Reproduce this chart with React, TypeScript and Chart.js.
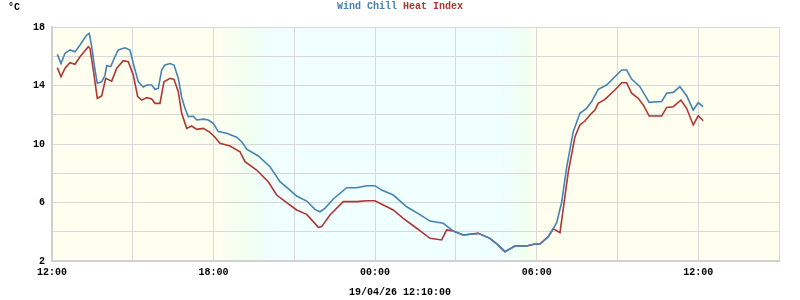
import React, { useEffect, useRef } from "react";
import { Chart, registerables } from "chart.js";

Chart.register(...registerables);

// hours after 12:00 on the first day
const windChillHours = [
  0.197, 0.334, 0.483, 0.668, 0.854, 1.04, 1.289, 1.385, 1.474, 1.597, 1.682, 1.846, 1.968, 2.031, 2.18,
  2.339, 2.462, 2.711, 2.896, 3.019, 3.205, 3.39, 3.516, 3.702, 3.825, 3.947, 4.073, 4.196, 4.382, 4.53,
  4.69, 4.816, 4.939, 5.061, 5.247, 5.373, 5.618, 5.804, 5.99, 6.175, 6.487, 6.859, 7.044, 7.23, 7.661,
  8.095, 8.466, 8.838, 9.087, 9.458, 9.766, 9.952, 10.137, 10.446, 10.943, 11.315, 11.686, 11.994, 12.243,
  12.674, 13.171, 13.665, 14.036, 14.53, 14.902, 15.273, 15.83, 16.264, 16.573, 16.822, 17.193, 17.628,
  17.935, 18.121, 18.43, 18.741, 18.927, 19.113, 19.358, 19.606, 19.855, 20.041, 20.286, 20.598, 20.906,
  21.155, 21.341, 21.526, 21.835, 22.18, 22.641, 22.827, 23.072, 23.32, 23.569, 23.814, 24.0, 24.185,
];
const windChill = [
  16.13, 15.5, 16.2, 16.43, 16.3, 16.77, 17.45, 17.57, 16.65, 15.06, 14.15, 14.25, 14.7, 15.35, 15.3,
  15.97, 16.43, 16.58, 16.43, 15.5, 14.25, 13.9, 14.03, 14.03, 13.74, 13.8, 15.06, 15.4, 15.5, 15.4,
  14.5, 13.2, 12.44, 11.87, 11.9, 11.64, 11.7, 11.64, 11.41, 10.85, 10.73, 10.46, 10.16, 9.64, 9.18,
  8.45, 7.42, 6.85, 6.44, 6.1, 5.53, 5.37, 5.6, 6.24, 7.01, 7.01, 7.15, 7.15, 6.85,
  6.51, 5.71, 5.17, 4.73, 4.58, 4.05, 3.78, 3.89, 3.55, 3.09, 2.64, 3.03, 3.03,
  3.16, 3.16, 3.66, 4.6, 6.0, 8.4, 10.84, 12.1, 12.44, 12.9, 13.74, 14.03, 14.6,
  15.06, 15.06, 14.44, 13.92, 12.85, 12.9, 13.47, 13.53, 13.92, 13.3, 12.32, 12.82, 12.55,
];

const heatIndexHours = [
  0.197, 0.334, 0.483, 0.668, 0.854, 1.04, 1.348, 1.411, 1.534, 1.682, 1.846, 1.994, 2.217, 2.403, 2.648,
  2.833, 3.019, 3.182, 3.331, 3.516, 3.702, 3.825, 4.01, 4.159, 4.382, 4.53, 4.69, 4.816, 5.002, 5.188,
  5.373, 5.618, 5.867, 6.053, 6.238, 6.61, 6.981, 7.167, 7.601, 8.032, 8.344, 8.715, 9.087, 9.458, 9.703,
  9.889, 10.015, 10.323, 10.817, 11.315, 11.686, 11.994, 12.302, 12.674, 13.045, 13.542, 13.665, 14.036,
  14.47, 14.657, 14.902, 15.273, 15.83, 16.264, 16.573, 16.822, 17.193, 17.628, 17.935, 18.121, 18.43,
  18.62, 18.866, 18.989, 19.175, 19.423, 19.606, 19.792, 19.978, 20.163, 20.286, 20.535, 20.906, 21.155,
  21.341, 21.526, 21.771, 21.957, 22.18, 22.641, 22.827, 23.072, 23.358, 23.569, 23.814, 24.0, 24.185,
];
const heatIndex = [
  15.22, 14.6, 15.18, 15.56, 15.45, 15.97, 16.65, 16.54, 15.06, 13.13, 13.28, 14.49, 14.3, 15.18, 15.7,
  15.63, 14.72, 13.24, 13.0, 13.17, 13.08, 12.78, 12.78, 14.26, 14.49, 14.42, 13.58, 12.1, 11.07, 11.23,
  11.0, 11.07, 10.8, 10.46, 10.05, 9.86, 9.47, 8.79, 8.22, 7.42, 6.51, 5.99, 5.49, 5.19, 4.69,
  4.3, 4.35, 5.15, 6.06, 6.06, 6.12, 6.12, 5.83, 5.49, 4.92, 4.24, 4.07, 3.55,
  3.44, 4.12, 4.05, 3.78, 3.89, 3.55, 3.09, 2.64, 3.03, 3.03, 3.16, 3.16, 3.66,
  4.2, 3.94, 5.6, 8.1, 10.5, 11.3, 11.57, 11.98, 12.32, 12.78, 13.05, 13.69, 14.19,
  14.19, 13.47, 13.12, 12.67, 11.91, 11.91, 12.5, 12.55, 13.0, 12.44, 11.3, 11.93, 11.59,
];

const xTickLabels = ["12:00", "18:00", "00:00", "06:00", "12:00"];
const yTickLabels = ["2", "6", "10", "14", "18"];
const seriesNames = ["Wind Chill", "Heat Index"];
const seriesColors = ["#4682b4", "#b03535"];
const unitLabel = "°C";
const footerTitle = "19/04/26 12:10:00";

// background (day/night) shading, hours after 12:00
const duskStart = 6.1;
const duskMid = 7.35;
const duskEnd = 8.3;
const dawnStart = 16.7;
const dawnMid = 17.6;
const dawnEnd = 18.0;

const FONT = "bold 10px 'Liberation Mono', 'DejaVu Sans Mono', monospace";

const bgPlugin = {
  id: "daynight",
  beforeDraw(chart: any) {
    const { ctx, chartArea, scales } = chart;
    const xs = scales.x;
    const l = chartArea.left;
    const w = chartArea.right - chartArea.left;
    const g = ctx.createLinearGradient(chartArea.left, 0, chartArea.right, 0);
    const day = "#fffff0";
    const green = "#f0fff0";
    const night = "#f0ffff";
    const stop = (h: number) => Math.min(1, Math.max(0, (xs.getPixelForValue(h) - l) / w));
    g.addColorStop(0, day);
    g.addColorStop(stop(duskStart), day);
    g.addColorStop(stop(duskMid), green);
    g.addColorStop(stop(duskEnd), night);
    g.addColorStop(stop(dawnStart), night);
    g.addColorStop(stop(dawnMid), green);
    g.addColorStop(stop(dawnEnd), day);
    g.addColorStop(1, day);
    ctx.save();
    ctx.fillStyle = g;
    ctx.fillRect(chartArea.left, chartArea.top, w, chartArea.bottom - chartArea.top);
    ctx.restore();
  },
};

const textPlugin = {
  id: "texts",
  afterDraw(chart: any) {
    const { ctx } = chart;
    ctx.save();
    ctx.font = FONT;
    ctx.textBaseline = "middle";
    ctx.fillStyle = "#000";
    ctx.textAlign = "left";
    ctx.fillText(unitLabel, 8, 7);
    const full = seriesNames.join(" ");
    const total = ctx.measureText(full).width;
    let x = 400 - total / 2;
    seriesNames.forEach((n, i) => {
      ctx.fillStyle = seriesColors[i];
      ctx.fillText(n, x, 6);
      x += ctx.measureText(n + " ").width;
    });
    ctx.fillStyle = "#000";
    ctx.textAlign = "center";
    ctx.fillText(footerTitle, 400, 292);
    ctx.restore();
  },
};

export default function App() {
  const ref = useRef<HTMLCanvasElement>(null);
  useEffect(() => {
    document.body.style.margin = "0";
    const canvas = ref.current!;
    const chart = new Chart(canvas, {
      type: "line",
      data: {
        datasets: [
          {
            label: seriesNames[0],
            data: windChillHours.map((h, i) => ({ x: h, y: windChill[i] })),
            borderColor: seriesColors[0],
            borderWidth: 1.6,
            pointRadius: 0,
            tension: 0,
            order: 0,
          },
          {
            label: seriesNames[1],
            data: heatIndexHours.map((h, i) => ({ x: h, y: heatIndex[i] })),
            borderColor: seriesColors[1],
            borderWidth: 1.6,
            pointRadius: 0,
            tension: 0,
            order: 1,
          },
        ],
      },
      options: {
        responsive: false,
        animation: false,
        layout: { padding: { left: 0, right: 21, top: 27, bottom: 0 } },
        plugins: { legend: { display: false }, tooltip: { enabled: false }, title: { display: false } },
        scales: {
          x: {
            type: "linear",
            min: 0,
            max: 27,
            afterBuildTicks: (s: any) => {
              const t = [];
              for (let v = 0; v <= 27; v += 3) t.push({ value: v });
              s.ticks = t;
            },
            afterFit: (s: any) => {
              s.height = 39;
            },
            ticks: {
              autoSkip: false,
              maxRotation: 0,
              padding: 5,
              color: "#000",
              font: { family: "'Liberation Mono', monospace", size: 10, weight: "bold" },
              callback: (v: any) => (v % 6 === 0 ? xTickLabels[v / 6] : ""),
            },
            grid: { color: "#d8d8d8", lineWidth: 1, drawTicks: false },
            border: { color: "#d0d0d0", width: 2 },
          },
          y: {
            min: 2,
            max: 18,
            afterBuildTicks: (s: any) => {
              const t = [];
              for (let v = 2; v <= 18; v += 2) t.push({ value: v });
              s.ticks = t;
            },
            afterFit: (s: any) => {
              s.width = 52;
            },
            ticks: {
              autoSkip: false,
              padding: 7,
              color: "#000",
              font: { family: "'Liberation Mono', monospace", size: 10, weight: "bold" },
              callback: (v: any) => ((v - 2) % 4 === 0 ? yTickLabels[(v - 2) / 4] : ""),
            },
            grid: { color: "#d8d8d8", lineWidth: 1, drawTicks: false },
            border: { color: "#d0d0d0", width: 2 },
          },
        },
      },
      plugins: [bgPlugin, textPlugin],
    });
    return () => chart.destroy();
  }, []);
  return <canvas ref={ref} width={800} height={300} style={{ display: "block" }} />;
}
